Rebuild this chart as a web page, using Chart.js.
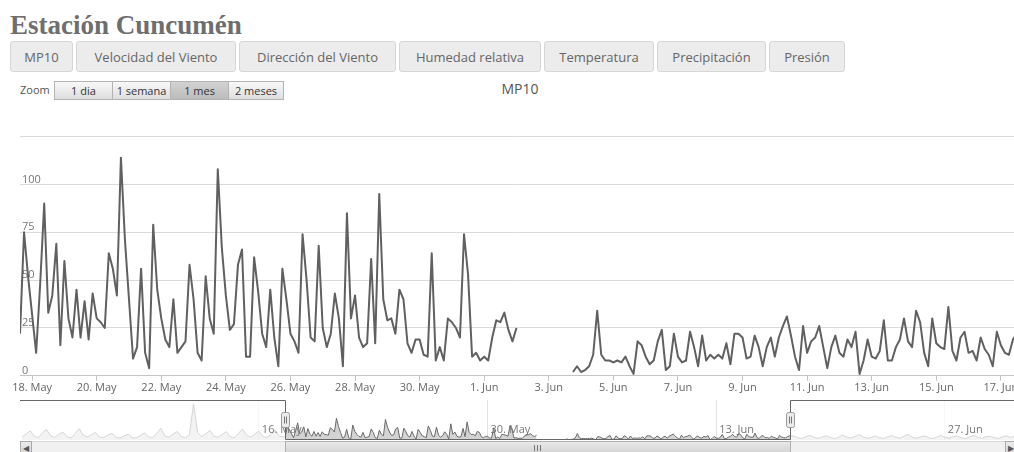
<!DOCTYPE html>
<html lang="es">
<head>
<meta charset="utf-8">
<title>Estación Cuncumén</title>
<script src="https://cdn.jsdelivr.net/npm/chart.js@4.4.1/dist/chart.umd.min.js"></script>
<style>
  body { margin:0; width:1014px; height:452px; overflow:hidden; position:relative; background:#fff; font-family:"Open Sans", sans-serif; }
  h1 { position:absolute; left:10px; top:12px; margin:0; font:bold 27px/27px "Liberation Serif", serif; color:#6e6e6e; }
  .tabs button { position:absolute; top:41px; height:31px; padding:0; font:13px "Open Sans", sans-serif; color:#666; background:#ececec; border:1px solid #d6d6d6; border-radius:3px; }
  #zoomLabel { position:absolute; left:20px; top:82px; font-size:11px; color:#555; }
  .rs button { position:absolute; top:81px; height:19px; padding:0; font:11px "Open Sans", sans-serif; color:#333; background:linear-gradient(#f8f8f8,#dedede); border:1px solid #b3b3b3; }
  .rs button.on { background:linear-gradient(#d2d2d2,#bcbcbc); }
  #title { position:absolute; left:0; width:1040px; top:79px; text-align:center; font-size:14px; color:#555; }
  #main { position:absolute; left:0; top:128px; }
  #nav { position:absolute; left:0; top:396px; }
  .sb { position:absolute; box-sizing:border-box; }
  #sbTrack { left:20px; top:441px; width:997px; height:13px; background:#f0f0f0; border:1px solid #d8d8d8; }
  #sbLeft, #sbRight { top:441px; width:12px; height:13px; background:linear-gradient(#ececec,#d6d6d6); border:1px solid #a9a9a9; font-size:8px; line-height:11px; text-align:center; color:#555; }
  #sbLeft { left:20px; }
  #sbRight { left:1005px; }
  #sbThumb { top:441px; height:13px; background:linear-gradient(#e9e9e9,#d3d3d3); border:1px solid #b0b0b0; }
  #sbThumb span { position:absolute; left:50%; top:3px; width:7px; height:6px; margin-left:-4px;
    background:repeating-linear-gradient(90deg,#777 0 1px,transparent 1px 3px); }
</style>
</head>
<body>
<h1>Estación Cuncumén</h1>
<div class="tabs">
  <button style="left:10px;width:63px">MP10</button>
  <button style="left:76px;width:160px">Velocidad del Viento</button>
  <button style="left:239px;width:157px">Dirección del Viento</button>
  <button style="left:399px;width:142px">Humedad relativa</button>
  <button style="left:544px;width:110px">Temperatura</button>
  <button style="left:657px;width:109px">Precipitación</button>
  <button style="left:769px;width:76px">Presión</button>
</div>
<div class="rs">
  <span id="zoomLabel">Zoom</span>
  <button style="left:54px;width:59px">1 dia</button>
  <button style="left:112px;width:59px">1 semana</button>
  <button class="on" style="left:170px;width:59px">1 mes</button>
  <button style="left:228px;width:56px">2 meses</button>
</div>
<div id="title">MP10</div>
<canvas id="main" width="1030" height="266"></canvas>
<canvas id="nav" width="1030" height="44"></canvas>
<div id="sbTrack" class="sb"></div>
<div id="sbThumb" class="sb"><span></span></div>
<div id="sbLeft" class="sb">&#9664;</div>
<div id="sbRight" class="sb">&#9654;</div>

<script>
// time is in hours counted from 18 May 00:00, MP10 sampled every 3 h
const STEP = 3;
const seg1Start = -9;   // 17 May 15:00
const seg1 = [22,75,52,32,12,48,90,33,42,69,16,60,30,20,45,20,39,19,43,30,28,25,64,56,42,
  114,71,40,9,15,56,12,4,79,45,30,19,15,40,12,15,18,58,40,12,8,52,30,22,
  108,67,42,24,27,58,66,10,10,62,44,22,15,45,20,5,56,40,22,18,12,74,50,20,18,68,
  25,15,22,43,30,5,85,30,42,20,15,17,61,17,95,40,29,30,22,45,40,17,12,
  19,19,11,10,64,8,15,8,30,28,25,20,74,53,10,12,8,10,8,20,29,28,33,24,18,25];
const seg2Start = 402;  // 3 Jun 18:00
const seg2 = [2,5,2,3,5,11,34,11,8,8,7,8,7,10,5,1,18,16,10,6,8,18,24,3,5,22,10,7,8,23,
  15,5,21,8,11,9,11,9,17,6,22,22,20,9,10,21,15,5,15,20,10,20,26,31,21,10,3,26,12,
  18,20,26,15,4,15,21,12,10,19,15,23,1,8,19,10,9,13,29,8,8,15,19,30,18,15,34,28,12,5,
  30,17,15,14,36,13,8,20,23,12,13,8,20,14,11,5,23,16,12,11,19,22];

// navigator only: rest of the data set, every 6 h
const NAV_STEP = 6;
const navBeforeStart = -396; // 1 May 12:00
const navBefore = [15,32,48,20, 12,38,55,22, 14,30,42,18, 10,34,60,25, 16,28,40,15, 12,26,35,14,
  10,22,30,12, 11,25,38,16, 13,36,62,20, 15,30,45,18, 12,27,190,40, 18,33,50,20, 14,29,44,17,
  12,35,58,24, 15,31,47,19, 13,28,52,20, 16];
const navAfterStart = 738;   // 17 Jun 18:00
const navAfter = [20,12,8,18, 24,14,9,16, 22,13,7,15, 26,15,10,19, 28,16,9,14, 21,12,8,17,
  23,14,10,20, 30,15,9,16, 22,13,8,15, 25,14,10,18, 21,12,7,16, 24,15,9,17, 20,13,8,15, 22,14,18];

const yTicks = [0, 25, 50, 75, 100, 125];
const mainTicks = [0,48,96,144,192,240,288,336,384,432,480,528,576,624,672,720];
const mainTickLabels = ['18. May','20. May','22. May','24. May','26. May','28. May','30. May','1. Jun',
  '3. Jun','5. Jun','7. Jun','9. Jun','11. Jun','13. Jun','15. Jun','17. Jun'];
const navTicks = [-48, 288, 624, 960];
const navTickLabels = ['16. May', '30. May', '13. Jun', '27. Jun'];

const viewMin = -9, viewMax = 732;   // selected range (1 mes)
const navMin = -399, navMax = 1066;

Chart.defaults.font.family = '"Open Sans", sans-serif';
Chart.defaults.font.size = 11;
Chart.defaults.animation = false;

function pts(start, step, vals) {
  return vals.map((v, i) => ({ x: start + i * step, y: v }));
}
const gapAt = seg1Start + seg1.length * STEP;
const series = [...pts(seg1Start, STEP, seg1), { x: gapAt, y: null }, ...pts(seg2Start, STEP, seg2)];
const navSeries = [...pts(navBeforeStart, NAV_STEP, navBefore), ...series, ...pts(navAfterStart, NAV_STEP, navAfter)];

new Chart(document.getElementById('main'), {
  type: 'line',
  data: { datasets: [{ data: series, borderColor: '#606060', borderWidth: 2, pointRadius: 0,
    tension: 0, borderJoinStyle: 'round' }] },
  options: {
    responsive: false,
    layout: { padding: { top: 8, left: 20, right: 13, bottom: 0 } },
    plugins: { legend: { display: false }, tooltip: { enabled: false } },
    scales: {
      x: {
        type: 'linear', min: viewMin, max: viewMax,
        afterBuildTicks: s => { s.ticks = mainTicks.map(v => ({ value: v })); },
        ticks: { callback: (v, i) => mainTickLabels[i], color: '#666', padding: 0, maxRotation: 0, autoSkip: false },
        grid: { drawOnChartArea: false, tickLength: 5, color: '#c4c4c4' },
        border: { color: '#c4c4c4' }
      },
      y: {
        min: 0, max: 125,
        afterBuildTicks: s => { s.ticks = yTicks.map(v => ({ value: v })); },
        afterFit: s => { s.width = 0; },
        ticks: { mirror: true, padding: 2, labelOffset: -5, color: '#777', callback: v => v === 125 ? '' : v },
        grid: { color: '#dadada', drawTicks: false },
        border: { display: false }
      }
    }
  }
});

const navDecor = {
  id: 'navDecor',
  afterDatasetsDraw(chart) {
    const { ctx, chartArea: a, scales: { x } } = chart;
    const x0 = Math.round(x.getPixelForValue(viewMin)) + 0.5;
    const x1 = Math.round(x.getPixelForValue(viewMax)) + 0.5;
    ctx.save();
    ctx.fillStyle = 'rgba(255,255,255,0.72)';
    ctx.fillRect(a.left, a.top, x0 - a.left, a.height);
    ctx.fillRect(x1, a.top, a.right - x1, a.height);
    ctx.fillStyle = '#777';
    ctx.font = '11px "Open Sans", sans-serif';
    navTicks.forEach((v, i) => ctx.fillText(navTickLabels[i], x.getPixelForValue(v) + 3, a.bottom - 7));
    ctx.strokeStyle = '#666';
    ctx.lineWidth = 1;
    ctx.beginPath();
    ctx.moveTo(a.left, a.top + 0.5);
    ctx.lineTo(x0, a.top + 0.5);
    ctx.lineTo(x0, a.bottom - 0.5);
    ctx.lineTo(x1, a.bottom - 0.5);
    ctx.lineTo(x1, a.top + 0.5);
    ctx.lineTo(a.right, a.top + 0.5);
    ctx.stroke();
    const hy = Math.round(a.top + a.height / 2 - 8) + 0.5;
    [x0, x1].forEach(hx => {
      ctx.fillStyle = '#ebebeb';
      ctx.strokeStyle = '#999';
      ctx.beginPath();
      ctx.roundRect(hx - 4, hy, 8, 15, 2);
      ctx.fill();
      ctx.stroke();
      ctx.strokeStyle = '#777';
      ctx.beginPath();
      ctx.moveTo(hx - 1, hy + 4); ctx.lineTo(hx - 1, hy + 11);
      ctx.moveTo(hx + 1, hy + 4); ctx.lineTo(hx + 1, hy + 11);
      ctx.stroke();
    });
    ctx.restore();
  }
};

const nav = new Chart(document.getElementById('nav'), {
  type: 'line',
  data: { datasets: [{ data: navSeries, borderColor: '#6a6a6a', borderWidth: 1, pointRadius: 0,
    tension: 0, fill: 'origin', backgroundColor: 'rgba(110,110,110,0.3)' }] },
  options: {
    responsive: false,
    layout: { padding: { top: 4, left: 20, right: 13, bottom: 0 } },
    plugins: { legend: { display: false }, tooltip: { enabled: false } },
    scales: {
      x: {
        type: 'linear', min: navMin, max: navMax,
        afterBuildTicks: s => { s.ticks = navTicks.map(v => ({ value: v })); },
        ticks: { display: false },
        grid: { color: '#e2e2e2', drawTicks: false },
        border: { display: false }
      },
      y: { display: false, min: 0, max: 210 }
    }
  },
  plugins: [navDecor]
});

const nx = nav.scales.x;
const thumb = document.getElementById('sbThumb');
const tl = Math.round(nx.getPixelForValue(viewMin));
thumb.style.left = tl + 'px';
thumb.style.width = (Math.round(nx.getPixelForValue(viewMax)) - tl + 1) + 'px';
</script>
</body>
</html>
